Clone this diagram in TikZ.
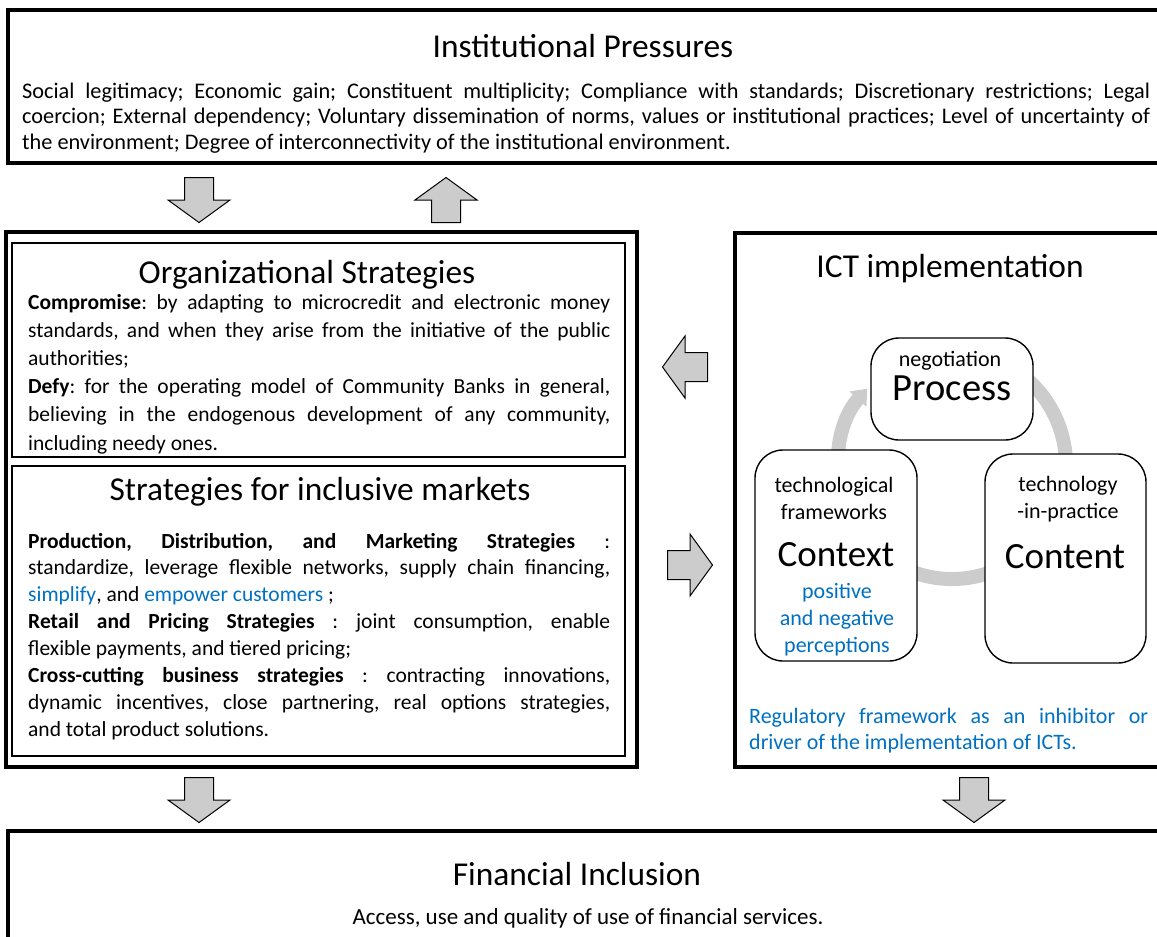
\documentclass[tikz,border=0pt]{standalone}
\usepackage{fontspec}
\setmainfont{Carlito}
\usetikzlibrary{positioning,arrows.meta,shapes}
\frenchspacing

\definecolor{noteblue}{RGB}{0,112,192}

\tikzset{
  outerbox/.style={draw, line width=3.5pt, inner sep=0pt, outer sep=0pt, anchor=north west},
  innerbox/.style={draw, line width=1.4pt, inner sep=0pt, outer sep=0pt, anchor=north west},
  roundbox/.style={draw, line width=1.4pt, rounded corners=28pt, fill=white, inner sep=0pt, outer sep=0pt},
  heading/.style={font=\fontsize{33.4}{40}\selectfont, inner sep=0pt, anchor=base},
  bodytext/.style={inner sep=0pt, anchor=base west, align=justify},
  label/.style={inner sep=0pt, anchor=base, align=center, font=\fontsize{22}{26.5}\selectfont},
  bigword/.style={inner sep=0pt, anchor=base, font=\fontsize{37}{44}\selectfont},
  blockarrow/.style={draw, line width=1pt, fill=gray!40, line join=miter},
  cyclearc/.style={line width=14pt, draw=gray!40, -{Triangle[width=22pt,length=14pt]}}
}

\begin{document}
\begin{tikzpicture}[x=1pt,y=-1pt]
\useasboundingbox (0,0) rectangle (1157,937);

% institutional pressures
\node[outerbox, minimum width=1160, minimum height=153] (pressures) at (8,10) {};
\node[heading] (pressurestitle) at (583,57) {Institutional Pressures};
\node[bodytext, text width=1128pt, font=\fontsize{22.3}{25.5}\selectfont] (pressuresbody) at (22,98)
  {Social legitimacy; Economic gain; Constituent multiplicity; Compliance with standards; Discretionary restrictions; Legal\linebreak
   coercion; External dependency; Voluntary dissemination of norms, values or institutional practices; Level of uncertainty of\linebreak
   the environment; Degree of interconnectivity of the institutional environment.};

% strategies
\node[outerbox, minimum width=631, minimum height=535] (strategies) at (6,232) {};
\node[innerbox, minimum width=613, minimum height=214] (orgbox) at (12,243) {};
\node[innerbox, minimum width=613, minimum height=290] (marketbox) at (12,466) {};
\node[heading] (orgtitle) at (307,283) {Organizational Strategies};
\node[bodytext, text width=582pt, font=\fontsize{21.5}{28.2}\selectfont] (orgbody) at (28,309)
  {\textbf{Compromise}: by adapting to microcredit and electronic money\linebreak
   standards, and when they arise from the initiative of the public\linebreak
   authorities;\\
   \textbf{Defy}: for the operating model of Community Banks in general,\linebreak
   believing in the endogenous development of any community,\linebreak
   including needy ones.};
\node[heading] (markettitle) at (320,500) {Strategies for inclusive markets};
\node[bodytext, text width=582pt, font=\fontsize{21.5}{26.9}\selectfont] (marketbody) at (28,548)
  {\textbf{Production, Distribution, and Marketing Strategies} :\linebreak
   standardize, leverage flexible networks, supply chain financing,\linebreak
   \textcolor{noteblue}{simplify}, and \textcolor{noteblue}{empower customers} ;\\
   \textbf{Retail and Pricing Strategies} : joint consumption, enable\linebreak
   flexible payments, and tiered pricing;\\
   \textbf{Cross-cutting business strategies} : contracting innovations,\linebreak
   dynamic incentives, close partnering, real options strategies,\linebreak
   and total product solutions.};

% ICT implementation
\node[outerbox, minimum width=430, minimum height=534] (ictbox) at (735,233) {};
\node[heading] (icttitle) at (950,277) {ICT implementation};
\draw[cyclearc] (952,465) ++(110:114pt) arc[start angle=110, end angle=-222, radius=114pt];
\node[roundbox, minimum width=162, minimum height=102] (processbox) at (952,389) {};
\node[roundbox, minimum width=162, minimum height=211] (contextbox) at (836,555.5) {};
\node[roundbox, minimum width=161, minimum height=209] (contentbox) at (1065.5,558.5) {};
\node[label] (processlabel) at (950,366) {negotiation};
\node[bigword, font=\fontsize{38.5}{44}\selectfont] (processword) at (952,400) {Process};
% multi-line labels sit on the baseline of their last line
\node[label] (contextlabel) at (834,519) {technological\\frameworks};
\node[bigword] (contextword) at (836,566) {Context};
\node[label, text=noteblue, font=\fontsize{22}{27}\selectfont] (contextnote) at (837,652) {positive\\and negative\\perceptions};
\node[label] (contentlabel) at (1068,518) {technology\\-in-practice};
\node[bigword] (contentword) at (1065,568) {Content};
\node[bodytext, text width=399pt, text=noteblue, font=\fontsize{22}{26}\selectfont] (regulation) at (749,723)
  {Regulatory framework as an inhibitor or\linebreak driver of the implementation of ICTs.};

% financial inclusion
\node[outerbox, minimum width=1160, minimum height=120] (inclusion) at (8,831) {};
\node[heading] (inclusiontitle) at (577,885) {Financial Inclusion};
\node[inner sep=0pt, anchor=base, font=\fontsize{23}{28}\selectfont] (inclusionbody) at (588,924)
  {Access, use and quality of use of financial services.};

% block arrows
\foreach \cx/\cy/\ang in {199/200/-90, 446/200/90, 685/367/180, 690/565/0, 199/800/-90, 974/800/-90} {
  \draw[blockarrow, shift={(\cx,\cy)}, rotate=\ang] (-22.5,-14.5) -- (0,-14.5) -- (0,-31) -- (22.5,0) -- (0,31) -- (0,14.5) -- (-22.5,14.5) -- cycle;
}
\end{tikzpicture}
\end{document}
